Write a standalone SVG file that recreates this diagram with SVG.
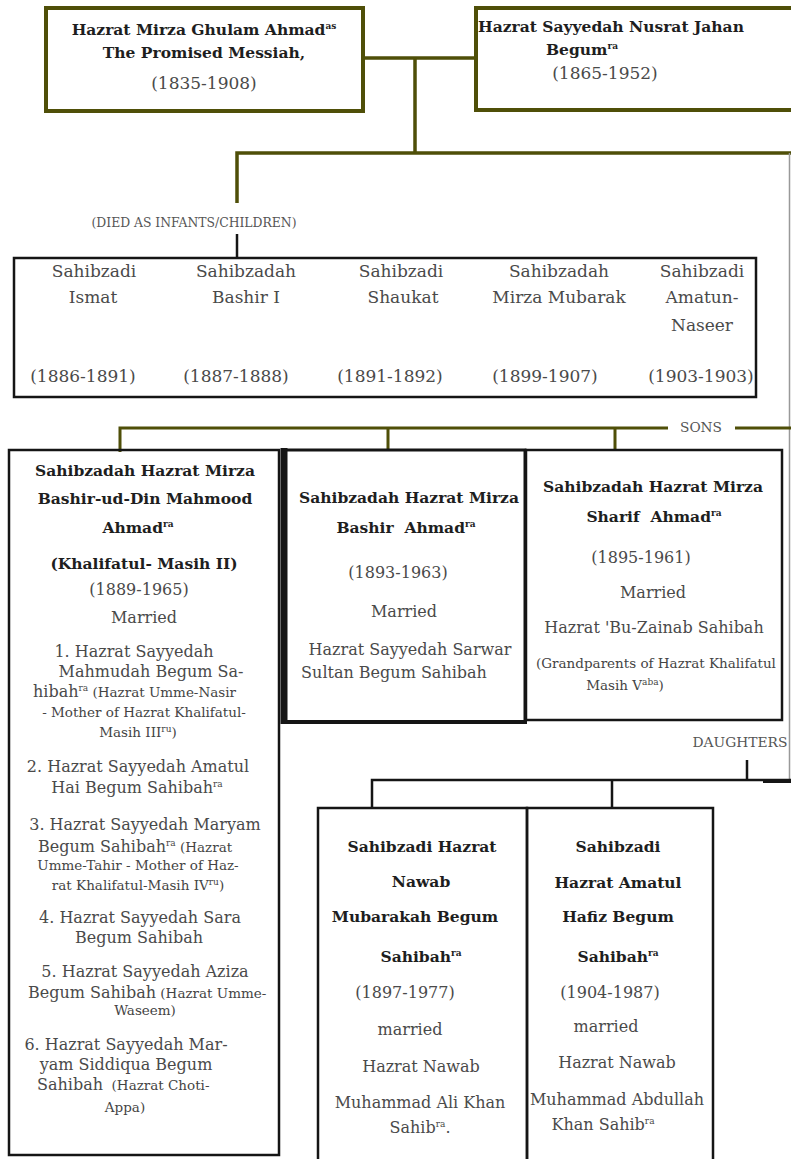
<svg xmlns="http://www.w3.org/2000/svg" width="791" height="1159" viewBox="0 0 791 1159">
<style>
text{font-family:"DejaVu Serif","Liberation Serif",serif;text-anchor:middle}
.b{font-weight:bold;font-size:15.5px;fill:#1e1e1e}
.r{font-size:16px;fill:#4a4a4a}
.d{font-size:17px;fill:#4a4a4a}
.s{font-size:13.5px;fill:#444}
.st{text-anchor:start}
.sup{font-size:9px}
.lbl{font-size:12px;fill:#555}
.ol{stroke:#4f4f08;fill:none}
.bk{stroke:#151515;fill:none}
</style>
<rect width="791" height="1159" fill="#fff"/>
<g id="connectors">
<path class="ol" stroke-width="3.5" d="M363 58H476M415 58V153M237 203V153H791"/>
<path class="bk" stroke-width="2.5" d="M237 234V258"/>
<path stroke="#999" stroke-width="1.5" fill="none" d="M789.5 153V780"/>
<path class="ol" stroke-width="3" d="M120 452V428H668M735 428H791M388 428V450M615 428V450"/>
<path class="bk" stroke-width="2.5" d="M747 760V780M372 808V780H791M612 780V808"/>
<path class="bk" stroke-width="4" d="M763 781H791"/>
</g>
<g id="labels">
<text class="lbl" x="194" y="227" textLength="205" lengthAdjust="spacingAndGlyphs">(DIED AS INFANTS/CHILDREN)</text>
<text class="lbl" x="701" y="432" textLength="42" lengthAdjust="spacingAndGlyphs">SONS</text>
<text class="lbl" x="740" y="747" textLength="95" lengthAdjust="spacingAndGlyphs">DAUGHTERS</text>
</g>
<g id="n-ghulam">
<rect x="46" y="8" width="317" height="103" class="ol" stroke-width="4"/>
<text class="b" x="204" y="35">Hazrat Mirza Ghulam Ahmad<tspan class="sup" dy="-6">as</tspan></text>
<text class="b" x="204" y="58">The Promised Messiah,</text>
<text class="d" x="204" y="89">(1835-1908)</text>
</g>
<g id="n-nusrat">
<rect x="476" y="8" width="330" height="102" class="ol" stroke-width="4"/>
<text class="b" x="611" y="32">Hazrat Sayyedah Nusrat Jahan</text>
<text class="b" x="582" y="55">Begum<tspan class="sup" dy="-6">ra</tspan></text>
<text class="d" x="605" y="79">(1865-1952)</text>
</g>
<g id="n-infants">
<rect x="14" y="258" width="742" height="139" class="bk" stroke-width="2.5"/>
<text class="d" x="94" y="277">Sahibzadi</text>
<text class="d" x="93" y="303">Ismat</text>
<text class="d" x="246" y="277">Sahibzadah</text>
<text class="d" x="246" y="303">Bashir I</text>
<text class="d" x="401" y="277">Sahibzadi</text>
<text class="d" x="403" y="303">Shaukat</text>
<text class="d" x="559" y="277">Sahibzadah</text>
<text class="d" x="559" y="303">Mirza Mubarak</text>
<text class="d" x="702" y="277">Sahibzadi</text>
<text class="d" x="702" y="303">Amatun-</text>
<text class="d" x="702" y="331">Naseer</text>
<text class="d" x="83" y="382">(1886-1891)</text>
<text class="d" x="236" y="382">(1887-1888)</text>
<text class="d" x="390" y="382">(1891-1892)</text>
<text class="d" x="545" y="382">(1899-1907)</text>
<text class="d" x="701" y="382">(1903-1903)</text>
</g>
<g id="n-mahmood">
<rect x="9" y="450" width="270" height="705" class="bk" stroke-width="2.5"/>
<text class="b" x="145" y="476">Sahibzadah Hazrat Mirza</text>
<text class="b" x="145" y="504">Bashir-ud-Din Mahmood</text>
<text class="b" x="138" y="533">Ahmad<tspan class="sup" dy="-6">ra</tspan></text>
<text class="b" x="144" y="569">(Khalifatul- Masih II)</text>
<text class="r" x="139" y="595">(1889-1965)</text>
<text class="r" x="144" y="623">Married</text>
<text class="r" x="134" y="657">1. Hazrat Sayyedah</text>
<text class="r" x="151" y="677">Mahmudah Begum Sa-</text>
<text class="r st" x="33" y="697">hibah<tspan class="sup" dy="-6">ra</tspan><tspan class="s" dy="6"> (Hazrat Umme-Nasir</tspan></text>
<text class="s" x="144" y="717">- Mother of Hazrat Khalifatul-</text>
<text class="s" x="138" y="737">Masih III<tspan class="sup" dy="-5">ru</tspan><tspan dy="5">)</tspan></text>
<text class="r" x="138" y="772">2. Hazrat Sayyedah Amatul</text>
<text class="r" x="137" y="793">Hai Begum Sahibah<tspan class="sup" dy="-6">ra</tspan></text>
<text class="r" x="145" y="830">3. Hazrat Sayyedah Maryam</text>
<text class="r st" x="38" y="852">Begum Sahibah<tspan class="sup" dy="-6">ra</tspan><tspan class="s" dy="6"> (Hazrat</tspan></text>
<text class="s" x="138" y="870">Umme-Tahir - Mother of Haz-</text>
<text class="s" x="138" y="890">rat Khalifatul-Masih IV<tspan class="sup" dy="-5">ru</tspan><tspan dy="5">)</tspan></text>
<text class="r" x="140" y="923">4. Hazrat Sayyedah Sara</text>
<text class="r" x="139" y="943">Begum Sahibah</text>
<text class="r" x="145" y="977">5. Hazrat Sayyedah Aziza</text>
<text class="r st" x="28" y="998">Begum Sahibah<tspan class="s"> (Hazrat Umme-</tspan></text>
<text class="s" x="145" y="1015">Waseem)</text>
<text class="r" x="126" y="1050">6. Hazrat Sayyedah Mar-</text>
<text class="r" x="126" y="1070">yam Siddiqua Begum</text>
<text class="r st" x="37" y="1090">Sahibah<tspan class="s">&#160; (Hazrat Choti-</tspan></text>
<text class="s" x="125" y="1112">Appa)</text>
</g>
<g id="n-bashir">
<rect x="285" y="450" width="240" height="272" class="bk" stroke-width="3"/>
<path class="bk" stroke-width="7" d="M284 448V724"/>
<path class="bk" stroke-width="4" d="M281 722H527"/>
<text class="b" x="409" y="503">Sahibzadah Hazrat Mirza</text>
<text class="b" x="406" y="533">Bashir&#160; Ahmad<tspan class="sup" dy="-6">ra</tspan></text>
<text class="r" x="398" y="578">(1893-1963)</text>
<text class="r" x="404" y="617">Married</text>
<text class="r" x="410" y="655">Hazrat Sayyedah Sarwar</text>
<text class="r" x="394" y="678">Sultan Begum Sahibah</text>
</g>
<g id="n-sharif">
<rect x="526" y="450" width="256" height="270" class="bk" stroke-width="2.5"/>
<text class="b" x="653" y="492">Sahibzadah Hazrat Mirza</text>
<text class="b" x="654" y="522">Sharif&#160; Ahmad<tspan class="sup" dy="-6">ra</tspan></text>
<text class="r" x="641" y="563">(1895-1961)</text>
<text class="r" x="653" y="598">Married</text>
<text class="r" x="654" y="633">Hazrat 'Bu-Zainab Sahibah</text>
<text class="s" x="656" y="668">(Grandparents of Hazrat Khalifatul</text>
<text class="s" x="625" y="690">Masih V<tspan class="sup" dy="-5">aba</tspan><tspan dy="5">)</tspan></text>
</g>
<g id="n-mubarakah">
<rect x="318" y="808" width="209" height="370" class="bk" stroke-width="2.5"/>
<text class="b" x="422" y="852">Sahibzadi Hazrat</text>
<text class="b" x="421" y="887">Nawab</text>
<text class="b" x="415" y="922">Mubarakah Begum</text>
<text class="b" x="421" y="962">Sahibah<tspan class="sup" dy="-6">ra</tspan></text>
<text class="r" x="405" y="998">(1897-1977)</text>
<text class="r" x="410" y="1035">married</text>
<text class="r" x="421" y="1072">Hazrat Nawab</text>
<text class="r" x="420" y="1108">Muhammad Ali Khan</text>
<text class="r" x="420" y="1133">Sahib<tspan class="sup" dy="-6">ra</tspan><tspan dy="6">.</tspan></text>
</g>
<g id="n-hafiz">
<rect x="527" y="808" width="186" height="370" class="bk" stroke-width="2.5"/>
<text class="b" x="618" y="852">Sahibzadi</text>
<text class="b" x="618" y="888">Hazrat Amatul</text>
<text class="b" x="618" y="922">Hafiz Begum</text>
<text class="b" x="618" y="962">Sahibah<tspan class="sup" dy="-6">ra</tspan></text>
<text class="r" x="610" y="998">(1904-1987)</text>
<text class="r" x="606" y="1032">married</text>
<text class="r" x="617" y="1068">Hazrat Nawab</text>
<text class="r" x="617" y="1105">Muhammad Abdullah</text>
<text class="r" x="603" y="1130">Khan Sahib<tspan class="sup" dy="-6">ra</tspan></text>
</g>
</svg>
